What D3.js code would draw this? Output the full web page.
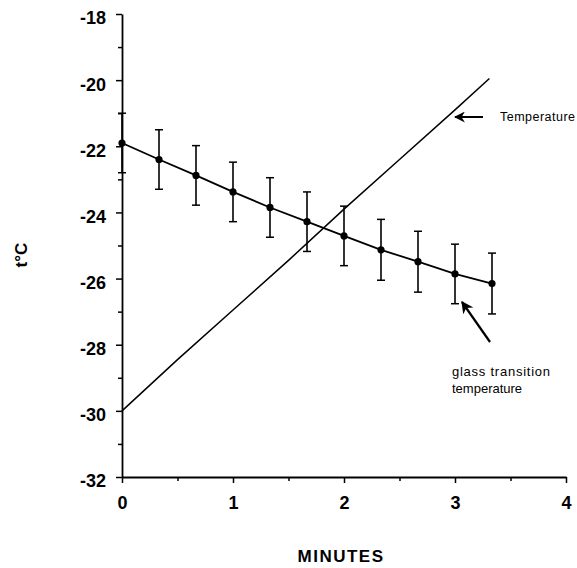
<!DOCTYPE html>
<html>
<head>
<meta charset="utf-8">
<script src="https://cdn.jsdelivr.net/npm/d3@7"></script>
<style>
	body { margin: 0; background: #fff; }
	svg { display: block; }
	text { font-family: "Liberation Sans", Arial, Helvetica, sans-serif; }
</style>
</head>
<body>
<script>
// glass transition points (time in minutes, mean and error in deg C)
var gtTime = [0, 1/3, 2/3, 1, 4/3, 5/3, 2, 7/3, 8/3, 3, 10/3];
var gtMean = [-21.9, -22.4, -22.88, -23.38, -23.85, -24.28, -24.71, -25.13, -25.49, -25.86, -26.15];
var gtErr  = [0.9, 0.9, 0.9, 0.9, 0.9, 0.9, 0.9, 0.92, 0.92, 0.9, 0.92];

// temperature ramp
var tempTime = [0, 0.5, 1, 1.5, 2, 2.5, 3, 3.31];
var tempVal  = [-30, -28.45, -26.95, -25.45, -23.9, -22.4, -20.9, -19.95];

var xTicks = [0, 1, 2, 3, 4];
var yTicks = [-32, -30, -28, -26, -24, -22, -20, -18];

var width = 577, height = 568;
var margin = {left: 122, right: 11, top: 14, bottom: 91};

var svg = d3.select('body').append('svg')
	.attr('width', width)
	.attr('height', height);

var x = d3.scaleLinear().domain([0, 4]).range([margin.left, width - margin.right]);
var y = d3.scaleLinear().domain([-32, -18]).range([height - margin.bottom, margin.top]);

//===== AXES =====//

// minor ticks first, then the major axis on top
svg.append('g')
	.attr('transform', 'translate(0,' + y(-32) + ')')
	.call(d3.axisBottom(x).tickValues(d3.range(0.5, 4, 1)).tickSize(4).tickFormat(''))
	.call(function (g) { g.select('.domain').remove(); });

svg.append('g')
	.attr('transform', 'translate(' + x(0) + ',0)')
	.call(d3.axisLeft(y).tickValues(d3.range(-31, -18, 2)).tickSize(4).tickFormat(''))
	.call(function (g) { g.select('.domain').remove(); });

var xAxis = svg.append('g')
	.attr('transform', 'translate(0,' + y(-32) + ')')
	.call(d3.axisBottom(x).tickValues(xTicks).tickSize(6).tickSizeOuter(0).tickPadding(13).tickFormat(d3.format('d')));

var yAxis = svg.append('g')
	.attr('transform', 'translate(' + x(0) + ',0)')
	.call(d3.axisLeft(y).tickValues(yTicks).tickSize(6).tickSizeOuter(0).tickPadding(10).tickFormat(function (d) { return '-' + Math.abs(d); }));

svg.selectAll('.tick line').attr('stroke', '#000').attr('stroke-width', 1.5);
svg.selectAll('.domain').attr('stroke', '#000').attr('stroke-width', 1.8);
[xAxis, yAxis].forEach(function (ax) {
	ax.selectAll('text')
		.attr('font-size', 18).attr('font-weight', 'bold').attr('fill', '#000')
		.attr('font-family', '"Liberation Sans", Arial, sans-serif');
});
// labels sit a little below their ticks in the original
yAxis.selectAll('text').attr('dy', '0.55em');

//===== SERIES =====//

var tempLine = d3.line()
	.x(function (d, i) { return x(tempTime[i]); })
	.y(function (d) { return y(d); });

svg.append('path')
	.datum(tempVal)
	.attr('d', tempLine)
	.attr('fill', 'none')
	.attr('stroke', '#000')
	.attr('stroke-width', 1.5);

var gtLine = d3.line()
	.x(function (d, i) { return x(gtTime[i]); })
	.y(function (d) { return y(d); });

svg.append('path')
	.datum(gtMean)
	.attr('d', gtLine)
	.attr('fill', 'none')
	.attr('stroke', '#000')
	.attr('stroke-width', 1.8);

var bars = svg.append('g').selectAll('g')
	.data(gtMean)
	.enter().append('g');

bars.append('line')
	.attr('x1', function (d, i) { return x(gtTime[i]); })
	.attr('x2', function (d, i) { return x(gtTime[i]); })
	.attr('y1', function (d, i) { return y(d + gtErr[i]); })
	.attr('y2', function (d, i) { return y(d - gtErr[i]); })
	.attr('stroke', '#000').attr('stroke-width', 1.6);

[1, -1].forEach(function (sign) {
	bars.append('line')
		.attr('x1', function (d, i) { return x(gtTime[i]) - 4; })
		.attr('x2', function (d, i) { return x(gtTime[i]) + 4; })
		.attr('y1', function (d, i) { return y(d + sign * gtErr[i]); })
		.attr('y2', function (d, i) { return y(d + sign * gtErr[i]); })
		.attr('stroke', '#000').attr('stroke-width', 1.5);
});

bars.append('circle')
	.attr('cx', function (d, i) { return x(gtTime[i]); })
	.attr('cy', function (d) { return y(d); })
	.attr('r', 3.6)
	.attr('fill', '#000');

//===== ANNOTATIONS =====//

var defs = svg.append('defs');
defs.append('marker')
	.attr('id', 'head')
	.attr('viewBox', '0 0 10 10')
	.attr('refX', 9).attr('refY', 5)
	.attr('markerWidth', 5.5).attr('markerHeight', 5.5)
	.attr('markerUnits', 'strokeWidth')
	.attr('orient', 'auto')
	.append('path')
	.attr('d', 'M0,0 L10,5 L0,10 L3,5 Z')
	.attr('fill', '#000');

// Temperature label
svg.append('line')
	.attr('x1', 483).attr('y1', 117)
	.attr('x2', 455).attr('y2', 117)
	.attr('stroke', '#000').attr('stroke-width', 2)
	.attr('marker-end', 'url(#head)');

svg.append('text')
	.attr('x', 500).attr('y', 121)
	.attr('font-size', 12.5)
	.attr('textLength', 75)
	.text('Temperature');

// glass transition label
svg.append('line')
	.attr('x1', 490).attr('y1', 342)
	.attr('x2', 462).attr('y2', 302)
	.attr('stroke', '#000').attr('stroke-width', 2.2)
	.attr('marker-end', 'url(#head)');

svg.append('text')
	.attr('x', 452).attr('y', 376)
	.attr('font-size', 13)
	.attr('textLength', 98)
	.text('glass transition');
svg.append('text')
	.attr('x', 452).attr('y', 393)
	.attr('font-size', 13)
	.text('temperature');

// axis titles
svg.append('text')
	.attr('transform', 'translate(27,255) rotate(-90)')
	.attr('text-anchor', 'middle')
	.attr('font-size', 17)
	.attr('font-weight', 'bold')
	.text('t\u00b0C');

svg.append('text')
	.attr('x', 341).attr('y', 562)
	.attr('text-anchor', 'middle')
	.attr('font-size', 17)
	.attr('font-weight', 'bold')
	.attr('letter-spacing', 1.5)
	.text('MINUTES');
</script>
</body>
</html>
